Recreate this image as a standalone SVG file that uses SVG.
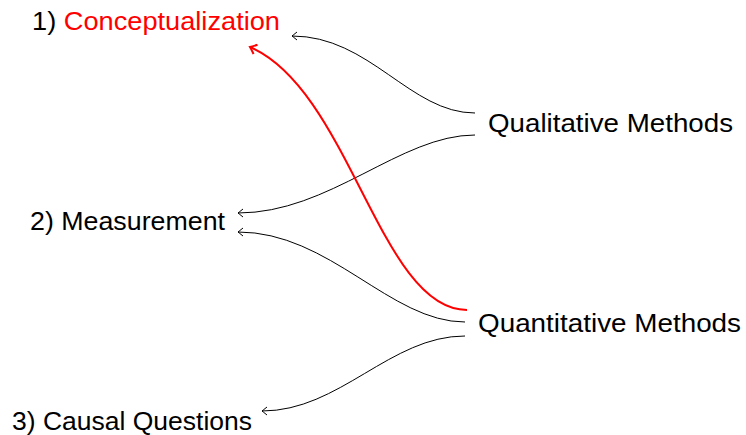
<svg xmlns="http://www.w3.org/2000/svg" width="746" height="435" viewBox="0 0 746 435">
<style>
text{font-family:"Liberation Sans",Arial,sans-serif;font-size:25.5px;fill:#000}
.red{fill:#ff0000}
.c{fill:none;stroke:#000;stroke-width:1}
.cr{fill:none;stroke:#ff0000;stroke-width:2}
</style>
<defs>
<marker id="a" viewBox="-6 -5 8 10" refX="0" refY="0" markerWidth="8" markerHeight="10" markerUnits="userSpaceOnUse" orient="auto">
<path d="M-5,-4 Q-1,-0.8 0,0 Q-1,0.8 -5,4" fill="none" stroke="#000" stroke-width="1"/>
</marker>
<marker id="ar" viewBox="-8 -6 10 12" refX="0" refY="0" markerWidth="10" markerHeight="12" markerUnits="userSpaceOnUse" orient="auto">
<path d="M-6,-5 Q-1.5,-1 0,0 Q-1.5,1 -6,5" fill="none" stroke="#ff0000" stroke-width="2"/>
</marker>
</defs>
<g id="n1"><text x="32" y="29.5" textLength="248" lengthAdjust="spacingAndGlyphs">1) <tspan class="red">Conceptualization</tspan></text></g>
<g id="n2"><text x="30" y="230" textLength="195" lengthAdjust="spacingAndGlyphs">2) Measurement</text></g>
<g id="n3"><text x="12" y="429.5" textLength="240" lengthAdjust="spacingAndGlyphs">3) Causal Questions</text></g>
<g id="qual"><text x="488" y="132" textLength="245" lengthAdjust="spacingAndGlyphs">Qualitative Methods</text></g>
<g id="quant"><text x="478" y="332" textLength="263" lengthAdjust="spacingAndGlyphs">Quantitative Methods</text></g>
<g id="connectors">
<path class="c" d="M475,113 C410,113 370,36 292,36" marker-end="url(#a)"/>
<path class="c" d="M475,135 C400,135 330,213 238,213" marker-end="url(#a)"/>
<path class="c" d="M465,322 C390,322 330,232 238,232" marker-end="url(#a)"/>
<path class="c" d="M465,336 C390,336 340,411 262,411" marker-end="url(#a)"/>
<path class="cr" d="M467,310 C380,310 350,90 250,47" marker-end="url(#ar)"/>
</g>
</svg>
